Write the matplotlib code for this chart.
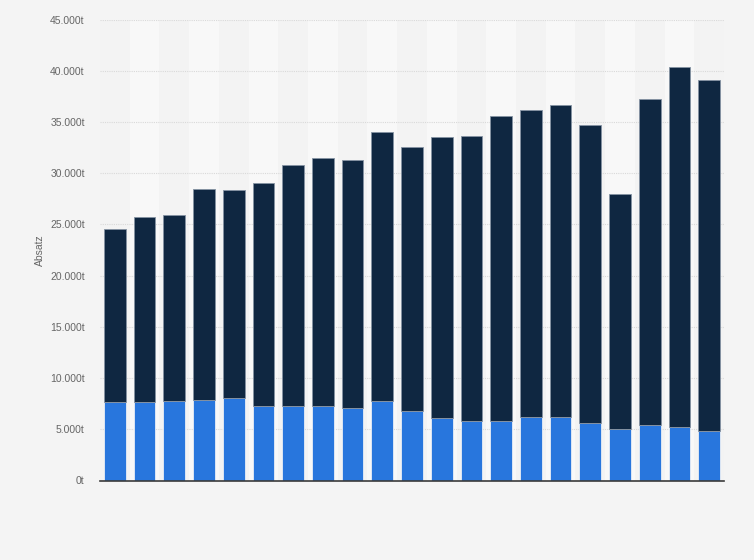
import numpy as np
import matplotlib.pyplot as plt
from matplotlib.ticker import FuncFormatter

plt.rcParams['font.family'] = ['Liberation Sans', 'DejaVu Sans']

# Absatz in 1000 t, one bar per year (no x labels in the source)
blue_values = [7.63, 7.63, 7.76, 7.86, 8.05, 7.27, 7.27, 7.25, 7.08, 7.76,
               6.75, 6.07, 5.78, 5.78, 6.20, 6.20, 5.61, 5.00, 5.39, 5.19, 4.80]
dark_values = [16.95, 18.12, 18.19, 20.63, 20.34, 21.80, 23.56, 24.26, 24.24, 26.23,
               25.84, 27.49, 27.88, 29.83, 29.94, 30.42, 29.13, 23.00, 31.82, 35.14, 34.27]
y_ticks = [0, 5, 10, 15, 20, 25, 30, 35, 40, 45]

blue = np.array(blue_values) * 1000
dark = np.array(dark_values) * 1000
x = np.arange(len(blue))

fig = plt.figure(figsize=(7.54, 5.60), dpi=100)
fig.patch.set_facecolor('#f4f4f4')
ax = fig.add_axes([100 / 754, 1 - 480.5 / 560, 624 / 754, 461 / 560])
ax.set_facecolor('#f3f3f3')

# alternating column bands
for i in x:
    if i % 2 == 1:
        ax.axvspan(i - 0.5, i + 0.5, color='#f8f8f8', zorder=0, lw=0)

for t in y_ticks[1:]:
    ax.axhline(t * 1000, color='#d9d9d9', lw=0.8, ls=(0, (1, 1)), zorder=1)

ax.bar(x, blue, width=0.73, color='#2876dd', edgecolor='#e8eef6', linewidth=0.6, zorder=2)
ax.bar(x, dark, width=0.73, bottom=blue, color='#0f2741', edgecolor='#8593a3', linewidth=0.6, zorder=2)

ax.set_xlim(-0.5, len(x) - 0.5)
ax.set_ylim(0, 45000)
ax.set_yticks([t * 1000 for t in y_ticks])
ax.yaxis.set_major_formatter(FuncFormatter(lambda v, p: f"{int(v):,}".replace(",", ".") + "t"))
ax.set_xticks([])
ax.tick_params(axis='y', length=0, pad=11, labelsize=7.5, labelcolor='#666666')

for s in ['top', 'right', 'left']:
    ax.spines[s].set_visible(False)
ax.spines['bottom'].set_color('#3a3a3a')
ax.spines['bottom'].set_linewidth(1.2)
ax.spines['bottom'].set_zorder(3)

fig.text(40 / 754, 1 - 250 / 560, 'Absatz', rotation=90, ha='center', va='center',
         fontsize=7.5, color='#666666')

fig.savefig('out.png', dpi=100, facecolor=fig.get_facecolor())
